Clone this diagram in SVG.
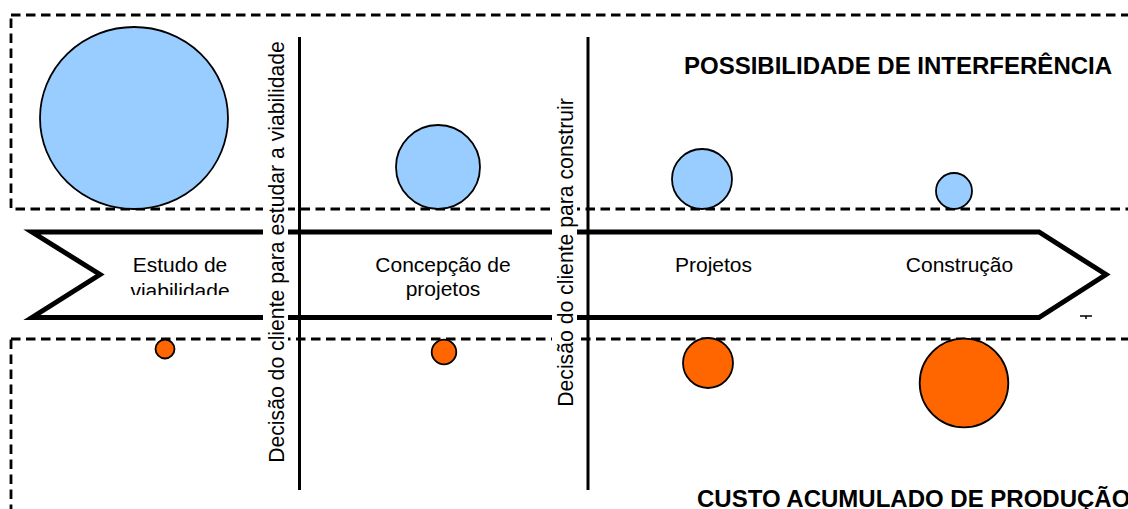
<svg xmlns="http://www.w3.org/2000/svg" width="1128" height="509" viewBox="0 0 1128 509">
<style>
.dash{fill:none;stroke:#000;stroke-width:2.8;stroke-dasharray:9.5 5.5}
.blue{fill:#99CCFF;stroke:#000;stroke-width:1.8}
.orange{fill:#FF6600;stroke:#000;stroke-width:1.8}
.lbl{font-family:"Liberation Sans",Arial,sans-serif;font-size:21px;fill:#000;text-anchor:middle}
.title{font-family:"Liberation Sans",Arial,sans-serif;font-size:24px;font-weight:bold;fill:#000}
.vline{stroke:#000;stroke-width:3;fill:none}
</style>
<defs>
<clipPath id="clipViab"><rect x="100" y="250" width="160" height="45"/></clipPath>
</defs>
<rect width="1128" height="509" fill="#fff"/>
<g id="zones">
<rect class="dash" x="11" y="15" width="1140" height="194"/>
<rect class="dash" x="11" y="339" width="1140" height="200"/>
</g>
<g id="process-arrow">
<path d="M32 232 L1039 232 L1106 274.5 L1039 317.5 L32 317.5 L100 274.5 Z" fill="none" stroke="#000" stroke-width="5" stroke-linejoin="miter"/>
<path d="M1080 316 H1092 M1086 316 V319" stroke="#000" stroke-width="1.5" fill="none"/>
</g>
<g id="interference">
<ellipse class="blue" cx="134" cy="118" rx="94" ry="91"/>
<circle class="blue" cx="438" cy="167" r="42"/>
<circle class="blue" cx="702" cy="179" r="30"/>
<circle class="blue" cx="954" cy="191" r="18"/>
</g>
<g id="cost">
<circle class="orange" cx="165" cy="349" r="9.5"/>
<circle class="orange" cx="444" cy="352" r="12.3"/>
<circle class="orange" cx="708" cy="363" r="25"/>
<circle class="orange" cx="964" cy="383" r="44.3"/>
</g>
<g id="connectors">
<line class="vline" x1="299.5" y1="37" x2="299.5" y2="490"/>
<line class="vline" x1="588" y1="37" x2="588" y2="490"/>
</g>
<g id="stage-labels">
<text class="lbl" x="180" y="272">Estudo de</text>
<text class="lbl" x="180" y="298" clip-path="url(#clipViab)">viabilidade</text>
<text class="lbl" x="443" y="272">Concepção de</text>
<text class="lbl" x="443" y="296">projetos</text>
<text class="lbl" x="713.5" y="272">Projetos</text>
<text class="lbl" x="959.5" y="272">Construção</text>
</g>
<g id="decision-1">
<rect x="263" y="36" width="25" height="432" fill="#fff"/>
<text class="lbl" transform="translate(283.5 252) rotate(-90)" style="font-size:21.2px">Decisão do cliente para estudar a viabilidade</text>
</g>
<g id="decision-2">
<rect x="552" y="93" width="25" height="318" fill="#fff"/>
<text class="lbl" transform="translate(573 252.5) rotate(-90)" style="font-size:21.2px">Decisão do cliente para construir</text>
</g>
<g id="titles">
<text class="title" x="684" y="74">POSSIBILIDADE DE INTERFERÊNCIA</text>
<text class="title" x="697" y="507">CUSTO ACUMULADO DE PRODUÇÃO</text>
</g>
</svg>
